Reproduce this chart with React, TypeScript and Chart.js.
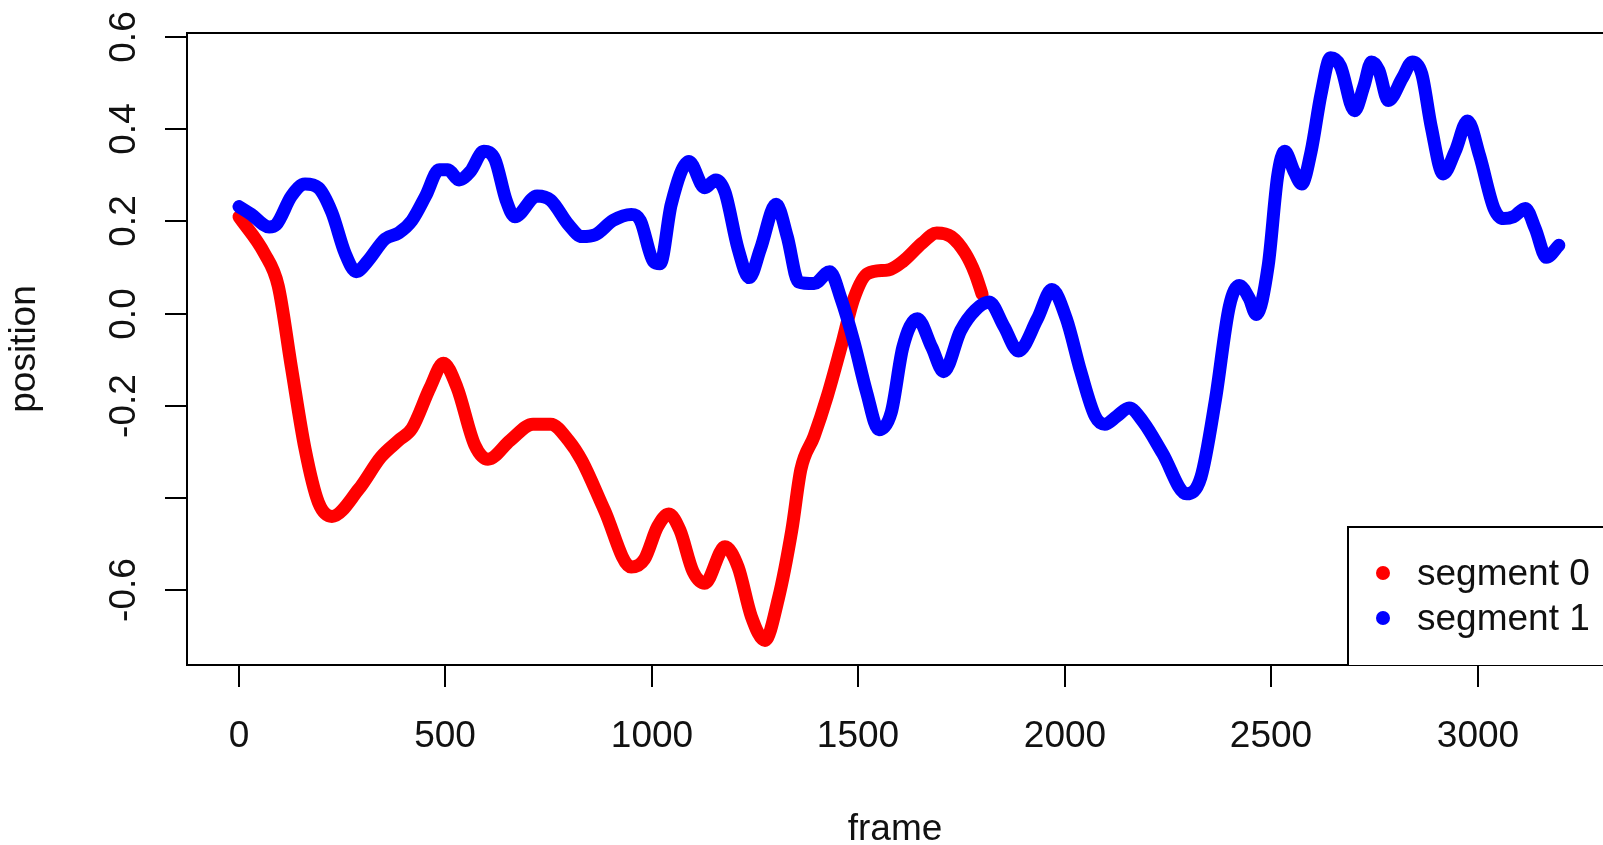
import React, { useEffect, useRef } from 'react';
import { Chart, registerables } from 'chart.js';

Chart.register(...registerables);

// ---- data (frame, position) ----
const redX = [0, 62, 95, 127, 160, 192, 225, 290, 344, 387, 419, 463, 495, 528, 571, 603, 657, 712, 755, 798, 831, 885, 950, 982, 1014, 1041, 1068, 1100, 1128, 1177, 1209, 1241, 1274, 1306, 1339, 1361, 1393, 1425, 1458, 1490, 1523, 1574, 1608, 1655, 1690, 1725, 1759, 1783, 1800];
const redY = [0.21, 0.13, 0.06, -0.117, -0.294, -0.409, -0.44, -0.381, -0.311, -0.275, -0.249, -0.16, -0.108, -0.16, -0.285, -0.316, -0.275, -0.24, -0.24, -0.275, -0.32, -0.426, -0.55, -0.533, -0.462, -0.435, -0.47, -0.56, -0.585, -0.506, -0.55, -0.657, -0.709, -0.62, -0.47, -0.338, -0.266, -0.179, -0.073, 0.034, 0.087, 0.095, 0.113, 0.153, 0.175, 0.167, 0.131, 0.087, 0.042];

const blueX = [0, 30, 73, 90, 127, 160, 192, 225, 257, 284, 311, 354, 387, 419, 452, 485, 506, 533, 560, 593, 620, 647, 668, 722, 755, 798, 831, 863, 906, 950, 972, 1004, 1020, 1047, 1090, 1128, 1155, 1177, 1209, 1236, 1263, 1301, 1328, 1355, 1393, 1431, 1458, 1490, 1520, 1550, 1580, 1608, 1643, 1678, 1707, 1748, 1783, 1817, 1853, 1888, 1934, 1969, 2004, 2039, 2074, 2097, 2126, 2156, 2191, 2237, 2295, 2330, 2365, 2399, 2423, 2447, 2464, 2493, 2516, 2533, 2556, 2574, 2597, 2621, 2644, 2668, 2702, 2725, 2743, 2761, 2784, 2818, 2842, 2865, 2888, 2917, 2946, 2976, 3005, 3040, 3063, 3087, 3116, 3140, 3167, 3197];
const blueY = [0.232, 0.215, 0.188, 0.193, 0.255, 0.281, 0.273, 0.219, 0.131, 0.091, 0.113, 0.162, 0.175, 0.202, 0.255, 0.312, 0.312, 0.29, 0.308, 0.352, 0.334, 0.246, 0.21, 0.255, 0.246, 0.193, 0.167, 0.171, 0.202, 0.215, 0.202, 0.113, 0.108, 0.237, 0.33, 0.273, 0.29, 0.264, 0.14, 0.078, 0.14, 0.237, 0.167, 0.069, 0.065, 0.091, 0.033, -0.063, -0.17, -0.252, -0.214, -0.073, -0.011, -0.073, -0.126, -0.037, 0.007, 0.025, -0.028, -0.081, -0.011, 0.052, -0.011, -0.126, -0.223, -0.24, -0.223, -0.205, -0.236, -0.303, -0.391, -0.355, -0.188, 0.016, 0.061, 0.033, -0.002, 0.104, 0.299, 0.352, 0.308, 0.281, 0.352, 0.476, 0.555, 0.537, 0.44, 0.494, 0.546, 0.528, 0.462, 0.511, 0.546, 0.52, 0.405, 0.303, 0.352, 0.418, 0.343, 0.228, 0.206, 0.21, 0.228, 0.184, 0.122, 0.148];

const seriesNames = ['segment 0', 'segment 1'];
const seriesColors = ['#ff0000', '#0000ff'];

const xTicks = [0, 500, 1000, 1500, 2000, 2500, 3000];
const xTickLabels = ['0', '500', '1000', '1500', '2000', '2500', '3000'];
const yTicks = [-0.6, -0.4, -0.2, 0.0, 0.2, 0.4, 0.6];
const yTickLabels = ['-0.6', '', '-0.2', '0.0', '0.2', '0.4', '0.6'];

const xTitle = 'frame';
const yTitle = 'position';

const xRange = [-126, 3304];
const yRange = [-0.7624, 0.6087];

const FONT_FAMILY = "'Liberation Sans', Arial, Helvetica, sans-serif";
const TEXT_COLOR = '#111';

const rDecor = {
  id: 'rDecor',
  afterDraw(chart: any) {
    const { ctx, chartArea: a, scales } = chart;
    const xs = scales.x;
    const ys = scales.y;
    ctx.save();
    ctx.strokeStyle = '#000';
    ctx.lineWidth = 2;
    // plot box (right side falls outside the image)
    ctx.beginPath();
    ctx.moveTo(a.right + 20, a.top);
    ctx.lineTo(a.left, a.top);
    ctx.lineTo(a.left, a.bottom);
    ctx.lineTo(a.right + 20, a.bottom);
    ctx.stroke();

    // x ticks + labels
    ctx.fillStyle = TEXT_COLOR;
    ctx.font = `37px ${FONT_FAMILY}`;
    ctx.textAlign = 'center';
    ctx.textBaseline = 'alphabetic';
    xTicks.forEach((v, i) => {
      const px = Math.round(xs.getPixelForValue(v));
      ctx.beginPath();
      ctx.moveTo(px, a.bottom);
      ctx.lineTo(px, a.bottom + 22);
      ctx.stroke();
      ctx.fillText(xTickLabels[i], px, a.bottom + 82);
    });

    // y ticks + rotated labels
    yTicks.forEach((v, i) => {
      const py = Math.round(ys.getPixelForValue(v));
      ctx.beginPath();
      ctx.moveTo(a.left, py);
      ctx.lineTo(a.left - 22, py);
      ctx.stroke();
      if (yTickLabels[i]) {
        ctx.save();
        ctx.translate(a.left - 52, py);
        ctx.rotate(-Math.PI / 2);
        ctx.textAlign = 'center';
        ctx.textBaseline = 'alphabetic';
        ctx.fillText(yTickLabels[i], 0, 0);
        ctx.restore();
      }
    });

    // axis titles
    ctx.font = `37px ${FONT_FAMILY}`;
    ctx.textAlign = 'center';
    ctx.fillText(xTitle, (a.left + a.right) / 2, a.bottom + 175);
    ctx.save();
    ctx.translate(35, (a.top + a.bottom) / 2);
    ctx.rotate(-Math.PI / 2);
    ctx.fillText(yTitle, 0, 0);
    ctx.restore();

    // legend (bottom right, box running off the image)
    const lx = a.right - 255;
    const ly = a.bottom - 138;
    ctx.fillStyle = '#fff';
    ctx.fillRect(lx, ly, a.right - lx + 20, a.bottom - ly);
    ctx.beginPath();
    ctx.moveTo(a.right + 20, ly);
    ctx.lineTo(lx, ly);
    ctx.lineTo(lx, a.bottom);
    ctx.stroke();
    const ds = chart.data.datasets;
    ctx.font = `37px ${FONT_FAMILY}`;
    ctx.textAlign = 'left';
    ctx.textBaseline = 'middle';
    ds.forEach((d: any, i: number) => {
      const cy = ly + 46 + i * 45;
      ctx.fillStyle = d.borderColor;
      ctx.beginPath();
      ctx.arc(lx + 35, cy, 7, 0, Math.PI * 2);
      ctx.fill();
      ctx.fillStyle = TEXT_COLOR;
      ctx.fillText(d.label, lx + 69, cy + 2);
    });
    ctx.restore();
  },
};

export default function App() {
  const ref = useRef<HTMLCanvasElement | null>(null);
  useEffect(() => {
    const el = ref.current;
    if (!el) return;
    const redPts = redX.map((x, i) => ({ x, y: redY[i] }));
    const bluePts = blueX.map((x, i) => ({ x, y: blueY[i] }));
    const common = {
      borderWidth: 13,
      pointRadius: 0,
      pointHoverRadius: 0,
      fill: false,
      cubicInterpolationMode: 'monotone' as const,
      borderCapStyle: 'round' as const,
      borderJoinStyle: 'round' as const,
    };
    const chart = new Chart(el, {
      type: 'line',
      data: {
        datasets: [
          { label: seriesNames[0], data: redPts, borderColor: seriesColors[0], backgroundColor: seriesColors[0], order: 1, ...common },
          { label: seriesNames[1], data: bluePts, borderColor: seriesColors[1], backgroundColor: seriesColors[1], order: 0, ...common },
        ],
      },
      options: {
        responsive: false,
        animation: false,
        devicePixelRatio: 1,
        layout: { padding: { left: 187, top: 33, right: 0, bottom: 180 } },
        plugins: { legend: { display: false }, tooltip: { enabled: false } },
        events: [],
        scales: {
          x: { type: 'linear', min: xRange[0], max: xRange[1], display: false },
          y: { type: 'linear', min: yRange[0], max: yRange[1], display: false },
        },
      },
      plugins: [rDecor],
    });
    return () => chart.destroy();
  }, []);
  return (
    <div style={{ position: 'fixed', left: 0, top: 0, width: 1603, height: 845, background: '#fff' }}>
      <canvas ref={ref} width={1603} height={845} style={{ display: 'block' }} />
    </div>
  );
}
